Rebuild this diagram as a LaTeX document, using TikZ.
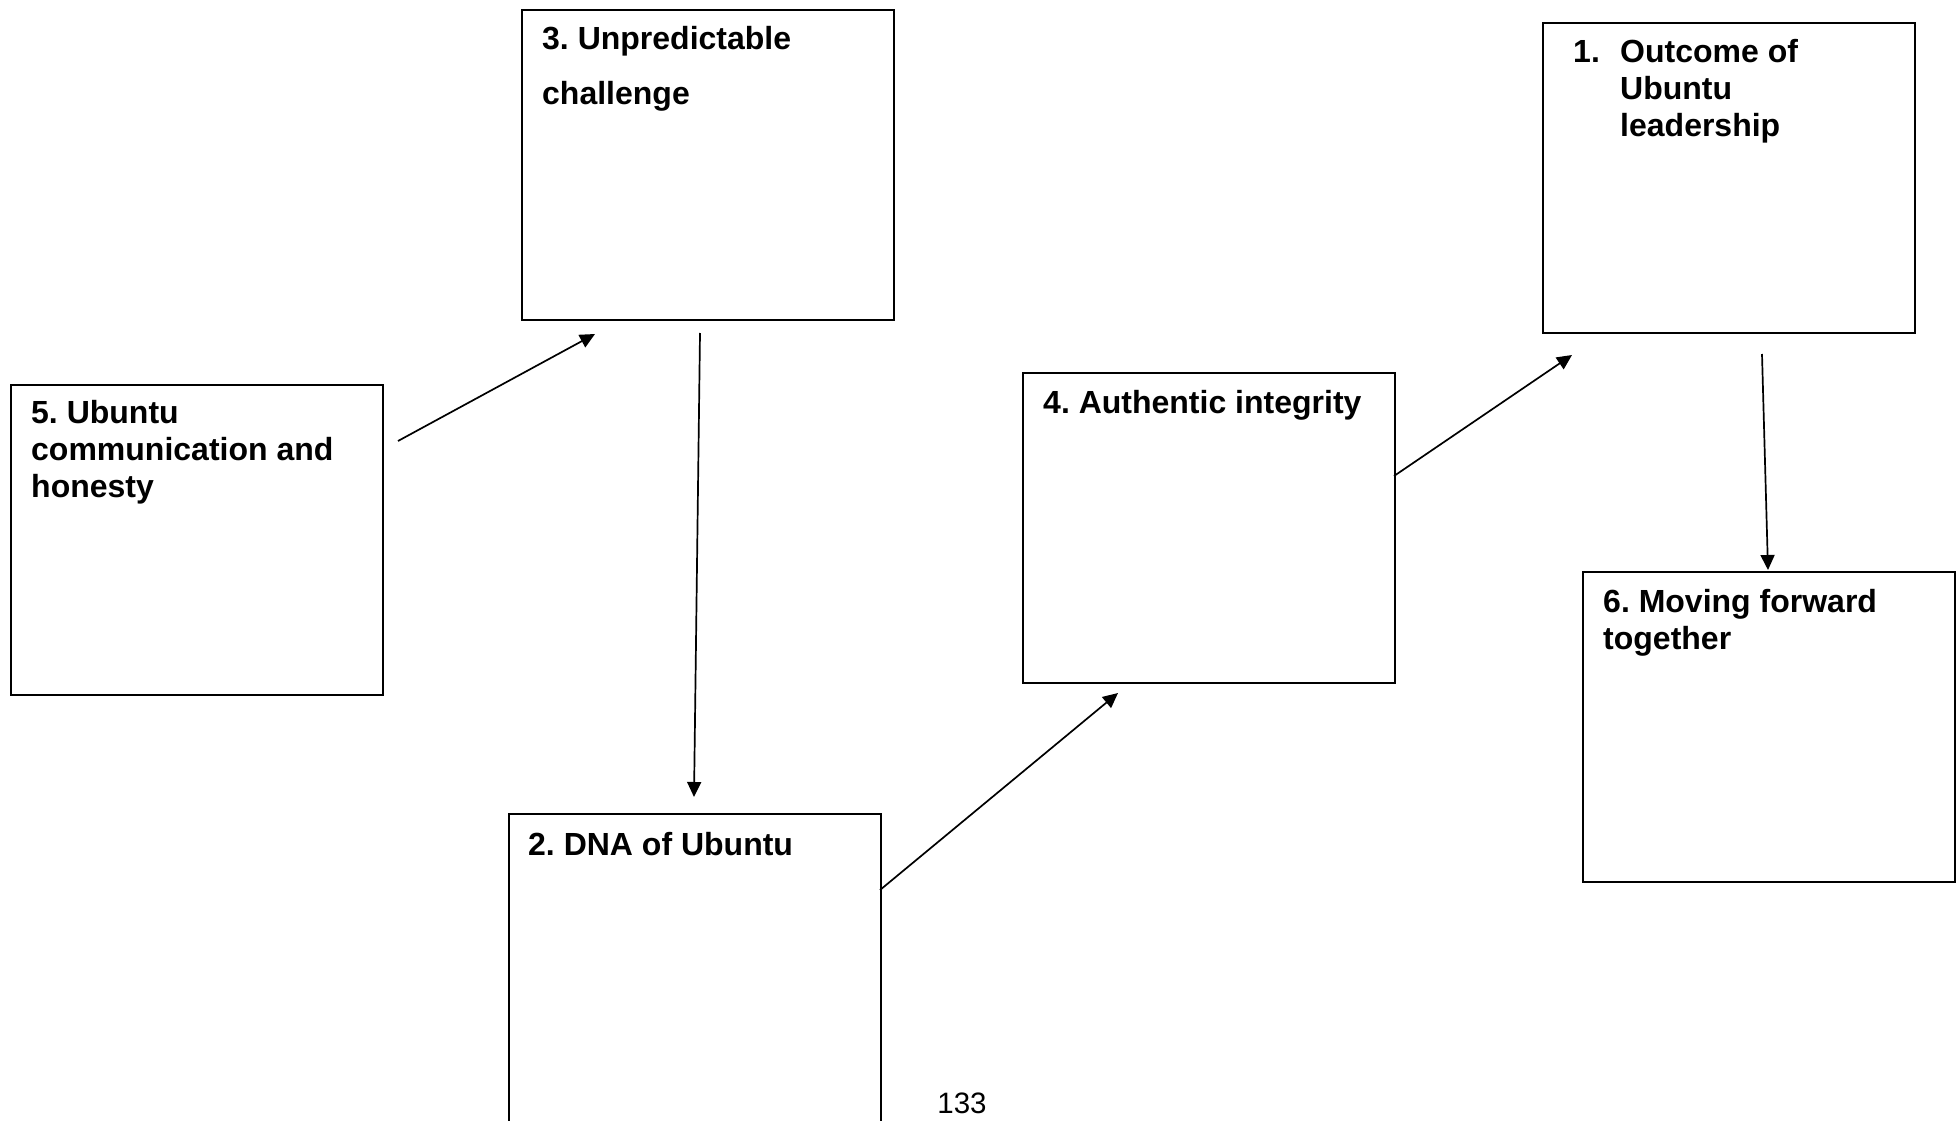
\documentclass[tikz,border=0pt]{standalone}
\usepackage{fontspec}
\setmainfont{Liberation Sans}
\usetikzlibrary{arrows.meta}
\frenchspacing
\begin{document}
\begin{tikzpicture}[x=1pt,y=-1pt,
  stagebox/.style={draw=black, line width=2.2pt, rectangle, minimum width=372pt,
    minimum height=310pt, anchor=north west, inner sep=0pt},
  heading/.style={anchor=base west, inner sep=0pt,
    font=\fontsize{32}{37}\selectfont\bfseries},
  flow/.style={line width=1.7pt, -{Triangle[length=15pt,width=14pt]}}]

% page frame
\clip (0,0) rectangle (1959,1121);
\fill[white] (0,0) rectangle (1959,1121);

% stage boxes
\node[stagebox] (b5) at (10,384) {};
\node[stagebox] (b3) at (521,9) {};
\node[stagebox] (b1) at (1542,22) {};
\node[stagebox] (b4) at (1022,372) {};
\node[stagebox] (b2) at (508,813) {};
\node[stagebox] (b6) at (1582,571) {};

% headings
\node[heading] (t5a) at (31,423) {5. Ubuntu};
\node[heading] (t5b) at (31,460) {communication and};
\node[heading] (t5c) at (31,497) {honesty};

\node[heading] (t3a) at (542,50) {3. Unpredictable};
\node[heading] (t3b) at (542,105) {challenge};

\node[heading] (t1n) at (1573,63) {1.};
\node[heading] (t1a) at (1620,63) {Outcome of};
\node[heading] (t1b) at (1620,100) {Ubuntu};
\node[heading] (t1c) at (1620,137) {leadership};

\node[heading] (t4a) at (1043,413) {4. Authentic integrity};

\node[heading] (t2a) at (528,855) {2. DNA of Ubuntu};

\node[heading] (t6a) at (1603,612) {6. Moving forward};
\node[heading] (t6b) at (1603,649) {together};

% page number
\node[anchor=base, inner sep=0pt, font=\fontsize{29.5}{34}\selectfont] (pg) at (962,1113) {133};

% connector end points
\coordinate (a1s) at (398,441);  \coordinate (a1e) at (595,334);
\coordinate (a2s) at (700,333);  \coordinate (a2e) at (694,797);
\coordinate (a3s) at (880,890);  \coordinate (a3e) at (1118,693);
\coordinate (a4s) at (1394,476); \coordinate (a4e) at (1572,355);
\coordinate (a5s) at (1762,354); \coordinate (a5e) at (1768,570);

% connectors
\draw[flow] (a1s) -- (a1e);
\draw[flow] (a2s) -- (a2e);
\draw[flow] (a3s) -- (a3e);
\draw[flow] (a4s) -- (a4e);
\draw[flow] (a5s) -- (a5e);
\end{tikzpicture}
\end{document}
